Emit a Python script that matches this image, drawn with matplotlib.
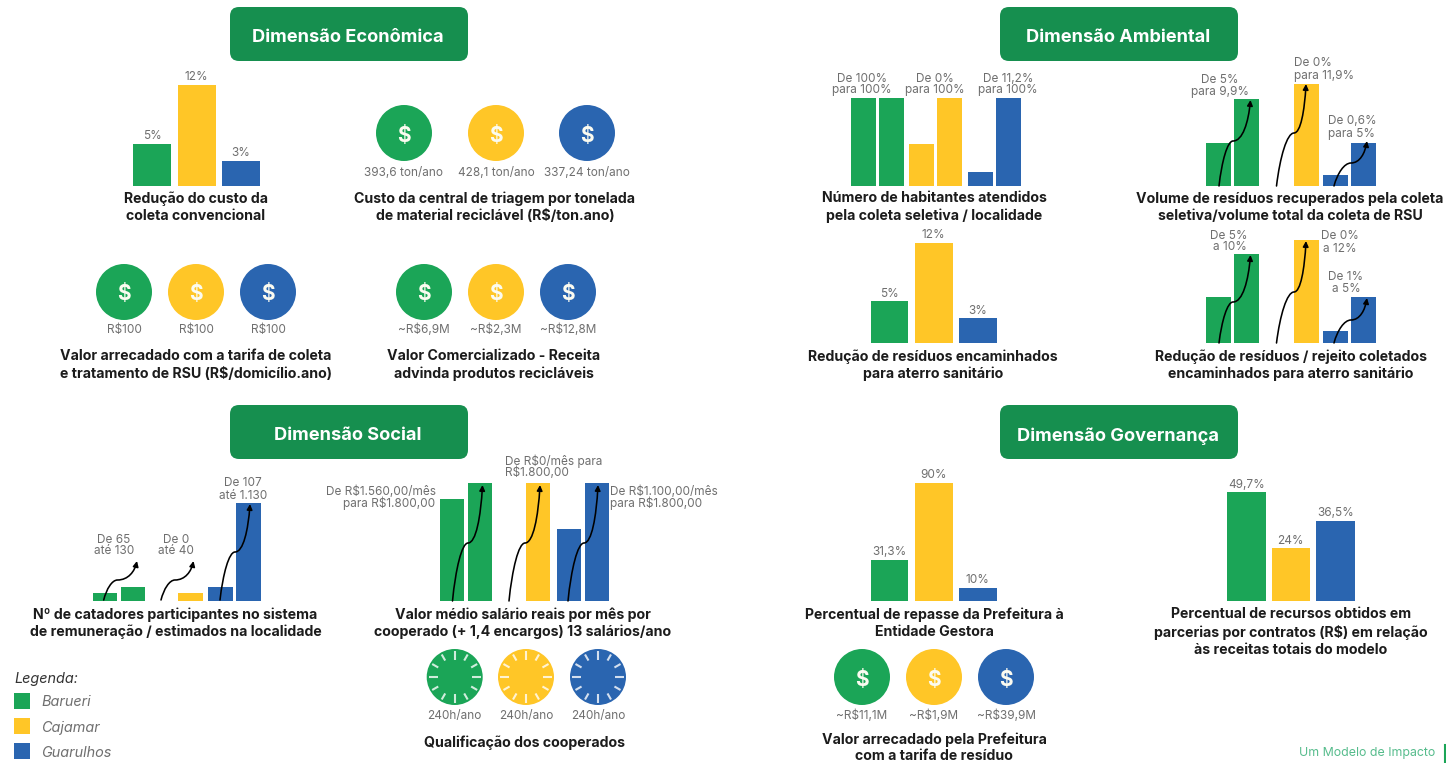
import numpy as np
import matplotlib
matplotlib.use("Agg")
import matplotlib.pyplot as plt
from matplotlib.patches import Circle, FancyBboxPatch, FancyArrowPatch, Rectangle
from matplotlib.path import Path

W, H = 1446, 763
FONT = ["Inter", "Open Sans", "DejaVu Sans"]
plt.rcParams["font.family"] = FONT

GREEN, YELLOW, BLUE = "#1BA557", "#FFC627", "#2A65B0"
CITY_COLORS = [GREEN, YELLOW, BLUE]
HEADER = "#168F4F"
GREY = "#6f6f6f"
DARK = "#1c1c1c"

# ---------- data ----------
cities = ["Barueri", "Cajamar", "Guarulhos"]

custo_coleta = [5, 12, 3]
custo_coleta_lbl = ["5%", "12%", "3%"]
aterro = [5, 12, 3]
aterro_lbl = ["5%", "12%", "3%"]
repasse = [31.3, 90, 10]
repasse_lbl = ["31,3%", "90%", "10%"]
parcerias = [49.7, 24, 36.5]
parcerias_lbl = ["49,7%", "24%", "36,5%"]

# before / after bars, as drawn in the picture
habitantes_de = [100, 48, 16]
habitantes_para = [100, 100, 100]
volume_de = [5, 0, 1.3]
volume_para = [10.2, 11.9, 5]
rejeito_de = [5.4, 0, 1.4]
rejeito_para = [10.4, 12, 5.4]
catadores_de = [92, 0, 160]
catadores_para = [160, 92, 1130]
salario_de = [1560, 0, 1100]
salario_para = [1800, 1800, 1800]

triagem_lbl = ["393,6 ton/ano", "428,1 ton/ano", "337,24 ton/ano"]
tarifa_lbl = ["R$100", "R$100", "R$100"]
comercial_lbl = ["~R$6,9M", "~R$2,3M", "~R$12,8M"]
prefeitura_lbl = ["~R$11,1M", "~R$1,9M", "~R$39,9M"]
qualificacao_lbl = ["240h/ano", "240h/ano", "240h/ano"]

# ---------- canvas ----------
fig = plt.figure(figsize=(W / 100, H / 100), dpi=100, facecolor="white")
ov = fig.add_axes([0, 0, 1, 1], zorder=5)
ov.set_xlim(0, W)
ov.set_ylim(H, 0)
ov.axis("off")
ov.patch.set_alpha(0)

VALUE_SIZE = 8.5


def txt(x, y, s, size=VALUE_SIZE, color=GREY, ha="center", **kw):
    ov.text(x, y + 1, s, fontsize=size, color=color, ha=ha, va="center", **kw)


def title(cx, y, lines, step=17.5):
    for i, line in enumerate(lines):
        txt(cx, y + 0.5 + i * step, line, size=10.2, color=DARK, fontweight="bold")


def label2(x, y, lines, ha="center", step=11.5):
    for i, line in enumerate(lines):
        txt(x, y + i * step, line, ha=ha)


def header(x0, y0, s):
    ov.add_patch(FancyBboxPatch((x0, y0), 238, 54, boxstyle="round,pad=0,rounding_size=9",
                                fc=HEADER, ec="none"))
    txt(x0 + 118, y0 + 30, s, size=13.1, color="white", fontweight="bold")


def bar_axes(x0, x1, base, scale, vmax):
    ax = fig.add_axes([x0 / W, (H - base) / H, (x1 - x0) / W, vmax * scale / H], zorder=2)
    ax.set_xlim(x0, x1)
    ax.set_ylim(0, vmax)
    ax.axis("off")
    return ax


def single_bars(left, pitch, width, base, scale, values, labels):
    xs = left + np.arange(3) * pitch
    ax = bar_axes(left, xs[-1] + width, base, scale, max(values))
    ax.bar(xs, values, width=width, align="edge", color=CITY_COLORS)
    for x, v, s in zip(xs, values, labels):
        ax.annotate(s, (x + width / 2, v), xytext=(0, 7.5), textcoords="offset pixels",
                    ha="center", va="center", fontsize=VALUE_SIZE, color=GREY, annotation_clip=False)


def paired_bars(starts, pitch, width, base, scale, before, after):
    starts = np.array(starts, dtype=float)
    ax = bar_axes(starts[0], starts[-1] + pitch + width, base, scale, max(after))
    ax.bar(starts, before, width=width, align="edge", color=CITY_COLORS)
    ax.bar(starts + pitch, after, width=width, align="edge", color=CITY_COLORS)


def s_arrow(start, mid, end):
    (sx, sy), (mx, my), (ex, ey) = start, mid, end
    verts = [(sx, sy),
             (sx + 0.2 * (mx - sx), my + 0.45 * (sy - my)), (mx - 0.4 * (mx - sx), my), (mx, my),
             (mx + 0.55 * (ex - mx), my), (ex - 0.12 * (ex - mx), my - 0.45 * (my - ey)), (ex, ey)]
    codes = [Path.MOVETO] + [Path.CURVE4] * 6
    ov.add_patch(FancyArrowPatch(path=Path(verts, codes), arrowstyle="-|>", mutation_scale=8,
                                 lw=1.15, color="black", shrinkA=0, shrinkB=0))


def coins(centers, y, labels, label_y):
    for (cx, s, c) in zip(centers, labels, CITY_COLORS):
        ov.add_patch(Circle((cx, y), 28, fc=c, ec="none"))
        txt(cx, y + 1.5, "$", size=15, color="#FBFBF0", fontweight="bold")
        txt(cx, label_y, s)


def clocks(centers, y, labels, label_y):
    for (cx, s, c) in zip(centers, labels, CITY_COLORS):
        ov.add_patch(Circle((cx, y), 28, fc=c, ec="none"))
        for a in np.deg2rad(np.arange(0, 360, 30)):
            r0 = 17 if int(round(np.rad2deg(a))) % 90 == 0 else 19
            ov.plot([cx + r0 * np.sin(a), cx + 26 * np.sin(a)],
                    [y - r0 * np.cos(a), y - 26 * np.cos(a)],
                    color="white", lw=1.5, alpha=.8, solid_capstyle="butt")
        txt(cx, label_y, s)


# ---------- headers ----------
header(230, 7, "Dimensão Econômica")
header(1000, 7, "Dimensão Ambiental")
header(230, 405, "Dimensão Social")
header(1000, 405, "Dimensão Governança")

# ---------- economic ----------
single_bars(133, 44.5, 38, 186, 101 / 12, custo_coleta, custo_coleta_lbl)
title(196, 197, ["Redução do custo da", "coleta convencional"])
coins([404, 496, 587], 133, triagem_lbl, 172)
title(495, 197, ["Custo da central de triagem por tonelada", "de material reciclável (R$/ton.ano)"])
coins([124, 196, 268], 292, tarifa_lbl, 329)
title(196, 355, ["Valor arrecadado com a tarifa de coleta", "e tratamento de RSU (R$/domicílio.ano)"])
coins([424, 496, 568], 292, comercial_lbl, 329)
title(494, 355, ["Valor Comercializado - Receita", "advinda produtos recicláveis"])

# ---------- environmental ----------
paired_bars([851, 909, 968], 28, 24.5, 186, 0.88, habitantes_de, habitantes_para)
label2(862, 78, ["De 100%", "para 100%"])
label2(935, 78, ["De 0%", "para 100%"])
label2(1008, 78, ["De 11,2%", "para 100%"])
title(934, 197, ["Número de habitantes atendidos", "pela coleta seletiva / localidade"])

paired_bars([1206, 1266, 1323], 28, 24.5, 186, 102 / 11.9, volume_de, volume_para)
label2(1220, 79, ["De 5%", "para 9,9%"])
label2(1294, 62, ["De 0%", "para 11,9%"], ha="left", step=13)
label2(1352, 120, ["De 0,6%", "para 5%"], step=12.5)
s_arrow((1219, 186), (1233, 141), (1250.5, 100))
s_arrow((1276.5, 186), (1294, 133), (1306, 84))
s_arrow((1334, 186), (1351, 163), (1367, 141))
title(1290, 197, ["Volume de resíduos recuperados pela coleta", "seletiva/volume total da coleta de RSU"])

single_bars(870.5, 44.2, 38, 343, 100 / 12, aterro, aterro_lbl)
title(933, 355, ["Redução de resíduos encaminhados", "para aterro sanitário"])

paired_bars([1206, 1266, 1323], 28, 24.5, 343, 103 / 12, rejeito_de, rejeito_para)
label2(1247, 235, ["De 5%", "a 10%"], ha="right")
label2(1340, 235, ["De 0%", "a 12%"], step=12.5)
label2(1346, 276, ["De 1%", "a 5%"], step=12.5)
s_arrow((1219, 343), (1233, 302), (1250.5, 255))
s_arrow((1276.5, 343), (1294, 292), (1306, 241))
s_arrow((1334, 343), (1351, 320), (1367, 298))
title(1291, 355, ["Redução de resíduos / rejeito coletados", "encaminhados para aterro sanitário"])

# ---------- social ----------
paired_bars([92.6, 150, 208], 28, 24.5, 601, 98 / 1130, catadores_de, catadores_para)
label2(114, 539, ["De 65", "até 130"])
label2(176, 539, ["De 0", "até 40"])
label2(243, 482, ["De 107", "até 1.130"], step=13)
s_arrow((103.7, 600), (117.5, 580), (137, 561))
s_arrow((161, 600), (175, 580), (193.5, 561))
s_arrow((220, 600), (235, 552), (250, 504))
title(175.6, 613, ["Nº de catadores participantes no sistema", "de remuneração / estimados na localidade"])

paired_bars([440, 498, 557], 28, 24, 601, 118 / 1800, salario_de, salario_para)
label2(435.5, 491, ["De R$1.560,00/mês", "para R$1.800,00"], ha="right")
label2(505, 460, ["De R$0/mês para", "R$1.800,00"], ha="left", step=11.5)
label2(610, 491, ["De R$1.100,00/mês", "para R$1.800,00"], ha="left")
s_arrow((452.5, 601), (468, 543), (482.5, 485))
s_arrow((509, 601), (525, 543), (540, 485))
s_arrow((568, 601), (584, 543), (598, 485))
title(523, 613, ["Valor médio salário reais por mês por", "cooperado (+ 1,4 encargos) 13 salários/ano"])

clocks([454.7, 526, 598], 677, qualificacao_lbl, 715)
title(525, 741, ["Qualificação dos cooperados"])

# ---------- governance ----------
single_bars(870.5, 44.2, 38, 601, 118 / 90, repasse, repasse_lbl)
title(934, 613, ["Percentual de repasse da Prefeitura à", "Entidade Gestora"])
coins([862, 934, 1006], 677, prefeitura_lbl, 715)
title(934, 738.5, ["Valor arrecadado pela Prefeitura", "com a tarifa de resíduo"], step=15.5)

single_bars(1227, 44.5, 38.5, 601, 109 / 49.7, parcerias, parcerias_lbl)
title(1291, 613, ["Percentual de recursos obtidos em", "parcerias por contratos (R$) em relação",
                  "às receitas totais do modelo"])

# ---------- legend and footer ----------
txt(14, 678, "Legenda:", size=10.4, color="#333333", ha="left", style="italic")
for y, name, c in zip([700.5, 726, 751], cities, CITY_COLORS):
    ov.add_patch(Rectangle((14, y - 8), 16, 16, fc=c, ec="none"))
    txt(41, y + 1, name, size=10.4, color=GREY, ha="left", style="italic")
txt(1435, 752, "Um Modelo de Impacto", size=8.9, color="#56BC8C", ha="right")
ov.plot([1445, 1445], [745, 763], color=GREEN, lw=1.5)

fig.savefig("out.png", dpi=100)
